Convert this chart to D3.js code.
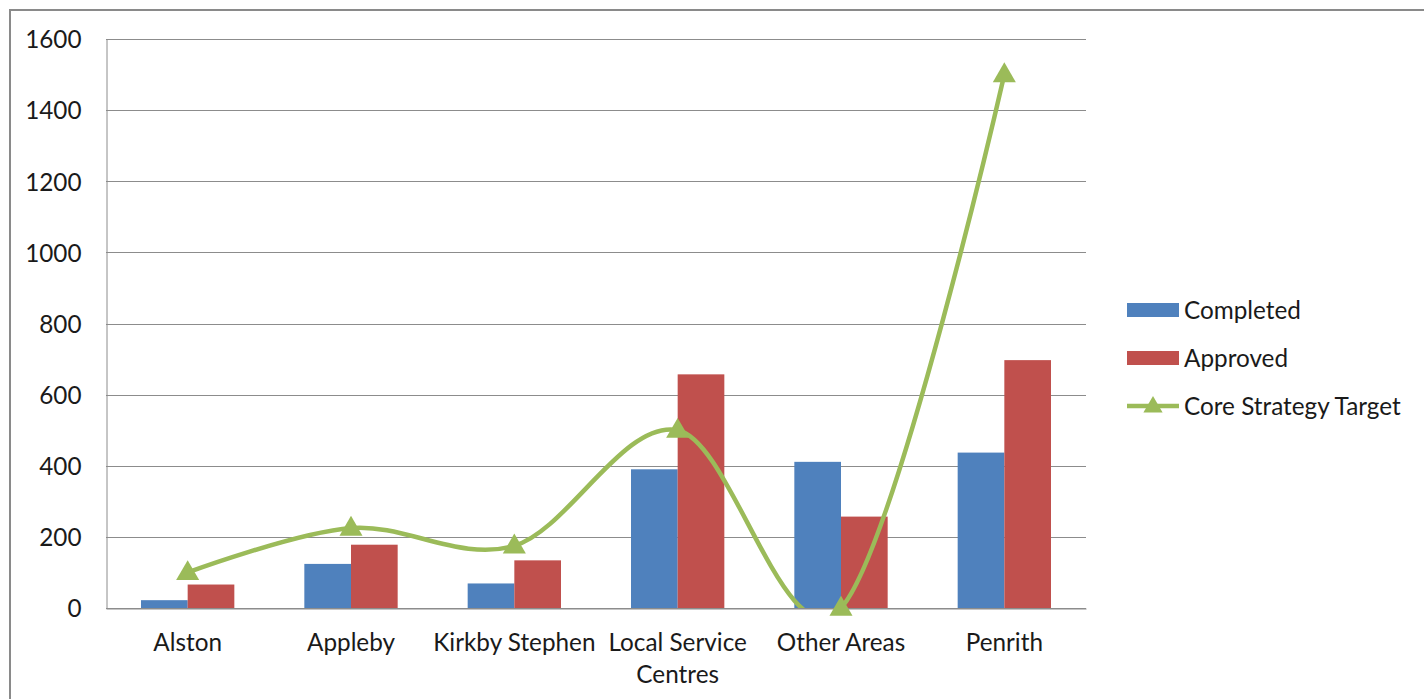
<!DOCTYPE html>
<html>
<head>
<meta charset="utf-8">
<script src="https://cdn.jsdelivr.net/npm/d3@7/dist/d3.min.js"></script>
<style>
  html, body { margin: 0; padding: 0; background: #fff; }
  svg { display: block; }
  text { font-family: Lato, "Liberation Sans", sans-serif; fill: #1a1a1a; }
</style>
</head>
<body>
<svg id="chart" width="1424" height="699"></svg>
<script>
// Housing figures by area
const categories = ["Alston", "Appleby", "Kirkby Stephen", "Local Service Centres", "Other Areas", "Penrith"];
const completed = [22, 124, 69, 390, 411, 437];
const approved = [66, 178, 134, 657, 257, 697];
const coreTarget = [100, 225, 175, 500, 0, 1500];
const yTicks = [0, 200, 400, 600, 800, 1000, 1200, 1400, 1600];
const seriesNames = ["Completed", "Approved", "Core Strategy Target"];

const colors = { completed: "#4F81BD", approved: "#C0504D", target: "#9BBB59" };
const gridColor = "#8c8c8c";
const fontSize = 24.3;

const svg = d3.select("#chart");
const W = 1424, H = 699;

// outer chart frame (only left and top edges fall inside the view)
svg.append("path")
  .attr("d", `M10,${H + 5} L10,10 L${W + 5},10`)
  .attr("fill", "none")
  .attr("stroke", "#8a8a8a")
  .attr("stroke-width", 2);

const plot = { left: 106, top: 39, right: 1086, bottom: 608 };

const x = d3.scaleBand()
  .domain(categories)
  .range([plot.left, plot.right])
  .paddingInner(0)
  .paddingOuter(0);

const y = d3.scaleLinear()
  .domain([0, 1600])
  .range([plot.bottom, plot.top]);

// bars occupy 2 of 3.5 units of each band (gap width 150%)
const barW = x.bandwidth() / 3.5;
const groupOffset = (x.bandwidth() - 2 * barW) / 2;

// horizontal gridlines
svg.append("g")
  .selectAll("line")
  .data(yTicks)
  .join("line")
  .attr("x1", plot.left)
  .attr("x2", plot.right)
  .attr("y1", d => Math.round(y(d)) + 0.5)
  .attr("y2", d => Math.round(y(d)) + 0.5)
  .attr("stroke", gridColor)
  .attr("stroke-width", 1);

// y axis
const yAxis = d3.axisLeft(y).tickValues(yTicks).tickFormat(d3.format("d")).tickSize(0).tickPadding(25);
const gy = svg.append("g")
  .attr("transform", `translate(${plot.left + 0.5},0)`)
  .call(yAxis);
gy.select(".domain").attr("stroke", gridColor);
gy.selectAll("text")
  .attr("font-size", fontSize)
  .attr("font-family", 'Lato, "Liberation Sans", sans-serif')
  .attr("fill", "#1a1a1a")
  .attr("dy", "0.36em");

// bars
const bars = svg.append("g");
bars.selectAll(".completed")
  .data(categories)
  .join("rect")
  .attr("class", "completed")
  .attr("x", d => x(d) + groupOffset)
  .attr("y", (d, i) => y(completed[i]))
  .attr("width", barW)
  .attr("height", (d, i) => y(0) - y(completed[i]))
  .attr("fill", colors.completed);
bars.selectAll(".approved")
  .data(categories)
  .join("rect")
  .attr("class", "approved")
  .attr("x", d => x(d) + groupOffset + barW)
  .attr("y", (d, i) => y(approved[i]))
  .attr("width", barW)
  .attr("height", (d, i) => y(0) - y(approved[i]))
  .attr("fill", colors.approved);

// x axis
const xAxis = d3.axisBottom(x).tickSize(0).tickPadding(0);
const gx = svg.append("g")
  .attr("transform", `translate(0,${plot.bottom + 0.5})`)
  .call(xAxis);
gx.select(".domain").attr("stroke", gridColor);
gx.selectAll("text")
  .attr("font-size", fontSize)
  .attr("font-family", 'Lato, "Liberation Sans", sans-serif')
  .attr("fill", "#1a1a1a")
  .attr("dy", null)
  .attr("y", 42)
  .each(function () { wrap(d3.select(this), 180); });

function wrap(textSel, width) {
  const words = textSel.text().split(/\s+/);
  const yPos = +textSel.attr("y");
  textSel.text(null);
  let line = [];
  let lineNo = 0;
  let tspan = textSel.append("tspan").attr("x", 0).attr("y", yPos);
  words.forEach(w => {
    line.push(w);
    tspan.text(line.join(" "));
    if (tspan.node().getComputedTextLength() > width && line.length > 1) {
      line.pop();
      tspan.text(line.join(" "));
      line = [w];
      lineNo++;
      tspan = textSel.append("tspan").attr("x", 0).attr("y", yPos + lineNo * 32).text(w);
    }
  });
}

// smoothed target line, clipped to the plot area
svg.append("clipPath").attr("id", "plotClip")
  .append("rect")
  .attr("x", plot.left).attr("y", plot.top - 30)
  .attr("width", plot.right - plot.left)
  .attr("height", plot.bottom - plot.top + 30);

const cx = d => x(d) + x.bandwidth() / 2;
const line = d3.line()
  .x(d => cx(d))
  .y((d, i) => y(coreTarget[i]))
  .curve(d3.curveCatmullRom.alpha(0));

svg.append("path")
  .datum(categories)
  .attr("clip-path", "url(#plotClip)")
  .attr("d", line)
  .attr("fill", "none")
  .attr("stroke", colors.target)
  .attr("stroke-width", 4.5)
  .attr("stroke-linejoin", "round");

const tri = d3.symbol().type(d3.symbolTriangle).size(230);
svg.append("g")
  .selectAll("path")
  .data(categories)
  .join("path")
  .attr("transform", (d, i) => `translate(${cx(d)},${y(coreTarget[i]) + 1})`)
  .attr("d", tri)
  .attr("fill", colors.target);

// legend
const legend = svg.append("g");
const legendRows = [310, 358, 406];
const swX = 1127, swW = 52;
legend.append("rect").attr("x", swX).attr("y", legendRows[0] - 7).attr("width", swW).attr("height", 14).attr("fill", colors.completed);
legend.append("rect").attr("x", swX).attr("y", legendRows[1] - 7).attr("width", swW).attr("height", 14).attr("fill", colors.approved);
legend.append("line")
  .attr("x1", swX).attr("x2", swX + swW)
  .attr("y1", legendRows[2]).attr("y2", legendRows[2])
  .attr("stroke", colors.target).attr("stroke-width", 4.5);
legend.append("path")
  .attr("transform", `translate(${swX + swW / 2},${legendRows[2] + 1})`)
  .attr("d", d3.symbol().type(d3.symbolTriangle).size(160))
  .attr("fill", colors.target);
legend.selectAll("text")
  .data(seriesNames)
  .join("text")
  .attr("x", 1184)
  .attr("y", (d, i) => legendRows[i])
  .attr("dy", "0.36em")
  .attr("font-size", fontSize)
  .text(d => d);
</script>
</body>
</html>
